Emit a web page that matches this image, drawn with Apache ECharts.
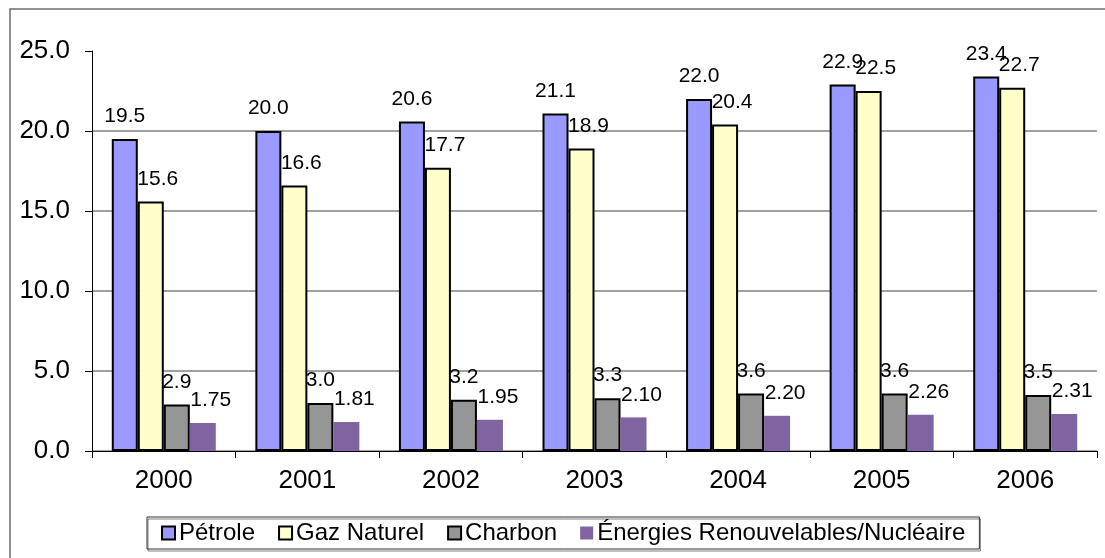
<!DOCTYPE html>
<html>
<head>
<meta charset="utf-8">
<script src="https://cdn.jsdelivr.net/npm/echarts@6/dist/echarts.min.js"></script>
<style>
  html, body { margin: 0; padding: 0; background: #fff; }
  #chart { width: 1105px; height: 558px; }
</style>
</head>
<body>
<div id="chart"></div>
<script>
const years = ['2000', '2001', '2002', '2003', '2004', '2005', '2006'];
const petrole = [19.5, 20.0, 20.6, 21.1, 22.0, 22.9, 23.4];
const gaz = [15.6, 16.6, 17.7, 18.9, 20.4, 22.5, 22.7];
const charbon = [2.9, 3.0, 3.2, 3.3, 3.6, 3.6, 3.5];
const energies = [1.75, 1.81, 1.95, 2.10, 2.20, 2.26, 2.31];

const font = 'Liberation Sans, Arial, sans-serif';

const chart = echarts.init(document.getElementById('chart'));

// one bar series, labels on top like the excel original
const barSeries = (name, data, color, border, decimals, dx) => ({
    name,
    type: 'bar',
    data,
    barWidth: 26,
    barGap: '0%',
    itemStyle: {
        color,
        borderColor: '#000',
        borderWidth: border ? 2 : 0
    },
    label: {
        show: true,
        position: 'top',
        distance: 12,
        offset: [dx, 0],
        color: '#000',
        fontFamily: font,
        fontSize: 21,
        formatter: (p) => p.value.toFixed(decimals)
    }
});

const option = {
    animation: false,
    backgroundColor: '#fff',
    graphic: [{
        type: 'rect',
        shape: { x: 10, y: 9, width: 1200, height: 700 },
        style: { fill: 'none', stroke: '#6e6e6e', lineWidth: 1.5 },
        silent: true
    }],
    grid: {
        left: 92,
        right: 8,
        top: 51,
        bottom: 107
    },
    legend: {
        left: 147,
        top: 517,
        padding: [4, 14, 4, 14],
        itemWidth: 13,
        itemHeight: 13,
        itemGap: 23,
        icon: 'rect',
        borderColor: '#333',
        borderWidth: 1,
        shadowColor: 'rgba(0,0,0,0.5)',
        shadowOffsetX: 1,
        shadowOffsetY: 2,
        textStyle: {
            color: '#000',
            fontFamily: font,
            fontSize: 24,
            padding: [0, 0, 0, -1]
        }
    },
    xAxis: {
        type: 'category',
        data: years,
        axisLine: { lineStyle: { color: '#000', width: 1 } },
        axisTick: { show: true, length: 7, lineStyle: { color: '#000' } },
        axisLabel: {
            color: '#000',
            fontFamily: font,
            fontSize: 26,
            margin: 17
        }
    },
    yAxis: {
        type: 'value',
        min: 0,
        max: 25,
        interval: 5,
        axisLine: { show: true, lineStyle: { color: '#000', width: 1 } },
        axisTick: { show: true, length: 7, lineStyle: { color: '#000' } },
        axisLabel: {
            color: '#000',
            fontFamily: font,
            fontSize: 26,
            margin: 22,
            formatter: (v) => v.toFixed(1)
        },
        splitLine: {
            show: true,
            showMaxLine: false,
            lineStyle: { color: '#808080', width: 1.5 }
        }
    },
    series: [
        barSeries('Pétrole', petrole, '#9999ff', true, 1, 0),
        barSeries('Gaz Naturel', gaz, '#ffffcc', true, 1, 7),
        barSeries('Charbon', charbon, '#969696', true, 1, 0),
        barSeries('Énergies Renouvelables/Nucléaire', energies, '#8064a2', false, 2, 8)
    ]
};

option && chart.setOption(option);
</script>
</body>
</html>
